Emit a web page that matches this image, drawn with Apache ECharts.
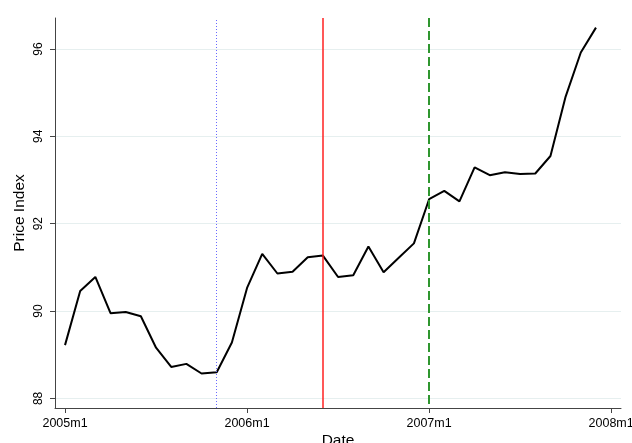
<!DOCTYPE html>
<html>
<head>
<meta charset="utf-8">
<script src="https://cdn.jsdelivr.net/npm/echarts@6/dist/echarts.min.js"></script>
<style>html,body{margin:0;padding:0;background:#fff}#c{width:632px;height:443px}</style>
</head>
<body>
<div id="c"></div>
<script>
var dates = ['2005m1','2005m2','2005m3','2005m4','2005m5','2005m6','2005m7','2005m8','2005m9','2005m10','2005m11','2005m12',
             '2006m1','2006m2','2006m3','2006m4','2006m5','2006m6','2006m7','2006m8','2006m9','2006m10','2006m11','2006m12',
             '2007m1','2007m2','2007m3','2007m4','2007m5','2007m6','2007m7','2007m8','2007m9','2007m10','2007m11','2007m12'];
var priceIndex = [89.22,90.46,90.78,89.95,89.98,89.88,89.16,88.72,88.79,88.57,88.60,89.28,
                  90.53,91.31,90.86,90.90,91.23,91.27,90.78,90.82,91.48,90.89,91.22,91.55,
                  92.56,92.75,92.51,93.29,93.11,93.18,93.14,93.15,93.55,94.91,95.92,96.49];
var xTickLabels = ['2005m1','2006m1','2007m1','2008m1'];
var yTickValues = [88,90,92,94,96];
var refDotted = '2005m11';
var refSolid = '2006m6';
var refDashed = '2007m1';

function toIdx(s){ var p = s.split('m'); return (parseInt(p[0],10)-2005)*12 + parseInt(p[1],10)-1; }
var xTicks = xTickLabels.map(toIdx);
var lineData = dates.map(function(d,i){ return [toIdx(d), priceIndex[i]]; });
var font = 'Liberation Sans, Arial, sans-serif';

var chart = echarts.init(document.getElementById('c'), null, {renderer:'canvas'});
chart.setOption({
  animation:false,
  grid:{left:55, right:11, top:18, bottom:35, containLabel:false, outerBoundsMode:'none'},
  xAxis:{
    type:'value', min:-0.66, max:36.65,
    name:'Date', nameLocation:'middle', nameGap:25, nameMoveOverlap:false,
    nameTextStyle:{fontFamily:font, fontSize:15.5, color:'#000', verticalAlign:'top'},
    axisLine:{show:true, onZero:false, lineStyle:{color:'#444', width:1}},
    axisTick:{show:true, length:5, customValues:xTicks, lineStyle:{color:'#444'}},
    axisLabel:{customValues:xTicks, margin:9, fontFamily:font, fontSize:12.5, color:'#000',
      formatter:function(v){ var i = xTicks.indexOf(Math.round(v)); return i>=0 ? xTickLabels[i] : ''; }},
    splitLine:{show:false}
  },
  yAxis:{
    type:'value', min:87.78, max:96.71,
    name:'Price Index', nameLocation:'middle', nameGap:27, nameMoveOverlap:false,
    nameTextStyle:{fontFamily:font, fontSize:15.5, color:'#000'},
    axisLine:{show:true, onZero:false, lineStyle:{color:'#444', width:1}},
    axisTick:{show:true, length:5, customValues:yTickValues, lineStyle:{color:'#444'}},
    axisLabel:{customValues:yTickValues, rotate:90, margin:10, fontFamily:font, fontSize:12, color:'#000'},
    splitLine:{show:true, lineStyle:{color:'#e6efef', width:1}}
  },
  series:[{
    type:'line', data:lineData, showSymbol:false, symbol:'none',
    lineStyle:{color:'#000', width:2}, z:3,
    markLine:{
      silent:true, symbol:['none','none'], label:{show:false},
      data:[
        {xAxis:toIdx(refDotted), lineStyle:{color:'#6a6aff', type:[1,2], width:1}},
        {xAxis:toIdx(refSolid), lineStyle:{color:'#ff2020', type:'solid', width:1.5}},
        {xAxis:toIdx(refDashed), lineStyle:{color:'#2f962f', type:[9,4], dashOffset:9, width:2}}
      ]
    }
  }]
});
</script>
</body>
</html>
